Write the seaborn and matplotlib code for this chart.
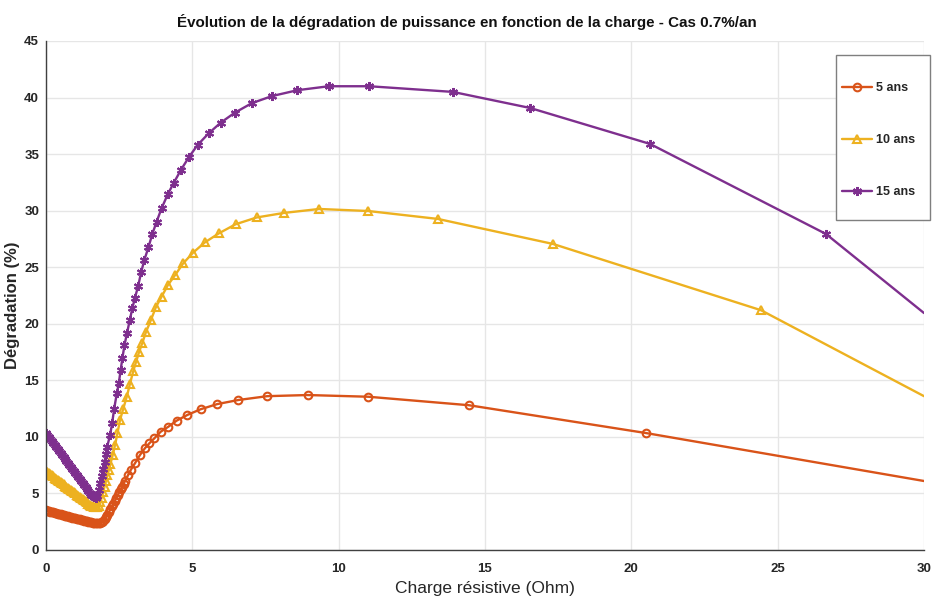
import matplotlib
matplotlib.use("Agg")
import matplotlib.pyplot as plt
from matplotlib.patches import Rectangle
import seaborn as sns
import pandas as pd

# ---------------- data ----------------
series_names = ["5 ans", "10 ans", "15 ans"]

x_5 = [0.00, 0.05, 0.10, 0.15, 0.20, 0.25, 0.30, 0.35, 0.40, 0.45, 0.50, 0.55, 0.60, 0.65, 0.70,
       0.75, 0.80, 0.85, 0.90, 0.95, 1.00, 1.05, 1.10, 1.15, 1.20, 1.25, 1.30, 1.35, 1.40, 1.45,
       1.50, 1.55, 1.60, 1.65, 1.70, 1.75, 1.80, 1.85, 1.90, 1.95, 2.00, 2.05, 2.10, 2.15, 2.20,
       2.25, 2.30, 2.35, 2.40, 2.45, 2.50, 2.55, 2.60, 2.65, 2.70, 2.80, 2.90, 3.04, 3.21, 3.38,
       3.53, 3.70, 3.92, 4.18, 4.46, 4.83, 5.28, 5.85, 6.57, 7.56, 8.94, 11.01, 14.45, 20.5, 30]
y_5 = [3.50, 3.47, 3.43, 3.40, 3.36, 3.33, 3.29, 3.26, 3.22, 3.19, 3.15, 3.12, 3.08, 3.05, 3.01,
       2.98, 2.94, 2.91, 2.87, 2.84, 2.80, 2.77, 2.73, 2.70, 2.66, 2.63, 2.59, 2.56, 2.52, 2.49,
       2.46, 2.44, 2.42, 2.41, 2.40, 2.40, 2.40, 2.42, 2.45, 2.55, 2.70, 2.90, 3.10, 3.35, 3.60,
       3.85, 4.10, 4.35, 4.60, 4.85, 5.10, 5.35, 5.60, 5.85, 6.10, 6.60, 7.10, 7.67, 8.40, 9.00,
       9.43, 9.87, 10.46, 10.9, 11.43, 11.94, 12.44, 12.9, 13.26, 13.6, 13.7, 13.55, 12.8, 10.34, 6.1]

x_10 = [0.00, 0.05, 0.10, 0.15, 0.20, 0.25, 0.30, 0.35, 0.40, 0.45, 0.50, 0.55, 0.60, 0.65, 0.70,
        0.75, 0.80, 0.85, 0.90, 0.95, 1.00, 1.05, 1.10, 1.15, 1.20, 1.25, 1.30, 1.35, 1.40, 1.45,
        1.50, 1.55, 1.60, 1.65, 1.70, 1.75, 1.80, 1.85, 1.90, 1.95, 2.00, 2.05, 2.10, 2.15, 2.20,
        2.28, 2.36, 2.44, 2.53, 2.64, 2.76, 2.87, 2.98, 3.08, 3.18, 3.29, 3.42, 3.58, 3.76, 3.95,
        4.16, 4.41, 4.69, 5.03, 5.43, 5.91, 6.48, 7.2, 8.13, 9.33, 11.01, 13.39, 17.32, 24.43, 30]
y_10 = [7.0, 6.9, 6.8, 6.7, 6.6, 6.5, 6.4, 6.3, 6.2, 6.1, 6.0, 5.9, 5.8, 5.7, 5.6,
        5.5, 5.4, 5.3, 5.2, 5.1, 5.0, 4.9, 4.8, 4.7, 4.6, 4.5, 4.4, 4.3, 4.2, 4.1,
        4.0, 3.92, 3.85, 3.8, 3.8, 3.82, 3.9, 4.2, 4.6, 5.1, 5.6, 6.1, 6.6, 7.1, 7.6,
        8.4, 9.3, 10.3, 11.5, 12.5, 13.55, 14.7, 15.8, 16.65, 17.5, 18.3, 19.3, 20.3, 21.5, 22.4,
        23.4, 24.3, 25.35, 26.3, 27.2, 28.0, 28.8, 29.4, 29.8, 30.15, 29.97, 29.27, 27.06, 21.2, 13.6]

x_15 = [0.00, 0.05, 0.10, 0.15, 0.20, 0.25, 0.30, 0.35, 0.40, 0.45, 0.50, 0.55, 0.60, 0.65, 0.70,
        0.75, 0.80, 0.85, 0.90, 0.95, 1.00, 1.05, 1.10, 1.15, 1.20, 1.25, 1.30, 1.35, 1.40, 1.45,
        1.50, 1.55, 1.60, 1.65, 1.70, 1.75, 1.80, 1.85, 1.90, 1.95, 2.00, 2.05, 2.09, 2.19, 2.26,
        2.33, 2.42, 2.49, 2.55, 2.61, 2.68, 2.77, 2.86, 2.95, 3.04, 3.15, 3.25, 3.36, 3.50, 3.63,
        3.78, 3.95, 4.16, 4.37, 4.61, 4.88, 5.18, 5.56, 5.97, 6.45, 7.03, 7.72, 8.59, 9.66, 11.05,
        13.9, 16.54, 20.64, 26.65, 30]
y_15 = [10.3, 10.13, 9.95, 9.78, 9.6, 9.43, 9.25, 9.08, 8.9, 8.73, 8.55, 8.38, 8.2, 8.03, 7.85,
        7.68, 7.5, 7.33, 7.15, 6.98, 6.8, 6.63, 6.45, 6.28, 6.1, 5.93, 5.75, 5.58, 5.4, 5.23,
        5.05, 4.9, 4.75, 4.65, 4.6, 4.8, 5.3, 5.9, 6.5, 7.15, 7.8, 8.5, 9.13, 10.17, 11.2,
        12.5, 13.85, 14.8, 15.9, 16.95, 18.1, 19.2, 20.3, 21.37, 22.31, 23.34, 24.55, 25.64, 26.76, 27.91,
        29.03, 30.21, 31.45, 32.48, 33.6, 34.72, 35.81, 36.84, 37.78, 38.66, 39.5, 40.13, 40.65, 41.0, 41.0,
        40.5, 39.08, 35.9, 27.94, 20.95]

x_ticks = [0, 5, 10, 15, 20, 25, 30]
y_ticks = [0, 5, 10, 15, 20, 25, 30, 35, 40, 45]

title_text = "Évolution de la dégradation de puissance en fonction de la charge - Cas 0.7%/an"
xlabel_text = "Charge résistive (Ohm)"
ylabel_text = "Dégradation (%)"

# ---------------- style ----------------
sns.set_style("white")
plt.rcParams["font.family"] = ["Liberation Sans", "DejaVu Sans"]

colors = ["#D95319", "#EDB120", "#7E2F8E"]
markers = ["o", "^", (6, 2, 0)]
msizes = [5.5, 6, 6.5]

fig = plt.figure(figsize=(9.34, 6.01), dpi=100)
ax = fig.add_axes([46 / 934, 1 - 550 / 601, (924 - 46) / 934, (550 - 41) / 601])

data = [(x_5, y_5), (x_10, y_10), (x_15, y_15)]
for name, (xs, ys), c, m, ms in zip(series_names, data, colors, markers, msizes):
    df = pd.DataFrame({"x": xs, "y": ys})
    sns.lineplot(data=df, x="x", y="y", ax=ax, color=c, marker=m, markersize=ms,
                 markeredgewidth=1.5, markerfacecolor="none", markeredgecolor=c,
                 markevery=list(range(len(xs) - 1)), linewidth=1.7, label=name,
                 sort=False, errorbar=None)

ax.set_xlim(0, 30)
ax.set_ylim(0, 45)
ax.set_xticks(x_ticks)
ax.set_yticks(y_ticks)
ax.set_xticklabels([str(t) for t in x_ticks], fontweight="bold", fontsize=9.5)
ax.set_yticklabels([str(t) for t in y_ticks], fontweight="bold", fontsize=9.5)
ax.tick_params(axis="both", direction="in", length=5, width=1, color="#404040",
               labelcolor="#262626")
ax.tick_params(axis="x", pad=9)
ax.tick_params(axis="y", pad=5)
ax.grid(True, color="#e6e6e6", linewidth=1)
ax.set_axisbelow(True)
for s in ["top", "right"]:
    ax.spines[s].set_visible(False)
for s in ["left", "bottom"]:
    ax.spines[s].set_color("#404040")
    ax.spines[s].set_linewidth(1)

ax.set_xlabel(xlabel_text, fontsize=12.5, color="#262626")
ax.xaxis.set_label_coords(0.5, -(589 - 550) / 509, transform=ax.transAxes)
ax.xaxis.label.set_va("center")
ax.set_ylabel(ylabel_text, fontsize=12, fontweight="bold", color="#262626")
ax.yaxis.set_label_coords(-(46 - 13) / 878, 0.48, transform=ax.transAxes)
ax.yaxis.label.set_va("center")
fig.text(0.5, 1 - 22 / 601, title_text, ha="center", va="center",
         fontsize=10.9, fontweight="bold", color="#111111")

# legend frame (drawn as a figure-coordinate box) and legend entries
frame = Rectangle((836 / 934, 1 - 220 / 601), 94 / 934, 165 / 601, transform=fig.transFigure,
                  facecolor="white", edgecolor="#7f7f7f", linewidth=1, zorder=4.5, clip_on=False)
ax.add_patch(frame)
leg = ax.legend(loc="upper left", bbox_to_anchor=(836 / 934, 1 - 76 / 601),
                bbox_transform=fig.transFigure, frameon=False, borderpad=0.5,
                labelspacing=3.2, handlelength=2.4, handletextpad=0.3, borderaxespad=0,
                prop={"weight": "bold", "size": 9})
leg.set_zorder(5)

fig.savefig("out.png", dpi=100)
